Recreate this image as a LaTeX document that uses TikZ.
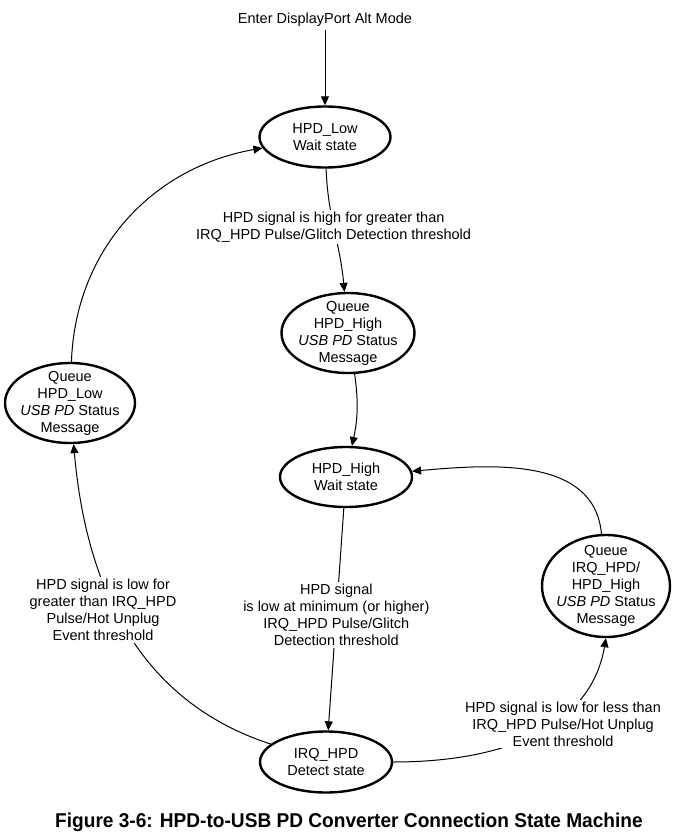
\documentclass[tikz,border=0pt]{standalone}
\usepackage{fontspec}
\setmainfont{Liberation Sans}
\usetikzlibrary{shapes.geometric,arrows.meta}

\begin{document}
\begin{tikzpicture}[x=1pt,y=1pt,every node/.style={font=\fontsize{14.5}{17}\selectfont, align=center}]
  \tikzstyle{state}=[ellipse, draw, line width=2.4pt, inner sep=0pt]
  \tikzstyle{trans}=[line width=1pt, -{Triangle[length=9pt,width=8pt]}]
  \tikzstyle{cond}=[fill=white, inner sep=2pt]

\useasboundingbox (0,0) rectangle (687,-833);

\node (enter) at (325,-20) {Enter DisplayPort Alt Mode};

\node [state, minimum width=131, minimum height=61,
  label={center:HPD\_Low\\Wait state}] (hpd_low) at (325,-137) {};
\node [state, minimum width=133, minimum height=80,
  label={center:Queue\\HPD\_High\\\textit{USB PD} Status\\Message}] (q_high) at (348,-333) {};
\node [state, minimum width=132, minimum height=60,
  label={center:HPD\_High\\Wait state}] (hh_wait) at (346,-477) {};
\node [state, minimum width=130, minimum height=80,
  label={center:Queue\\HPD\_Low\\\textit{USB PD} Status\\Message}] (q_low) at (70,-403) {};
\node [state, minimum width=128, minimum height=102,
  label={center:Queue\\IRQ\_HPD/\\HPD\_High\\\textit{USB PD} Status\\Message}] (q_irq) at (606,-586) {};
\node [state, minimum width=132, minimum height=61,
  label={center:IRQ\_HPD\\Detect state}] (irq_det) at (326,-762) {};

% transitions
\draw[trans] (enter) -- (hpd_low);
\draw[trans] (hpd_low) to[out=-88, in=95]
  node[cond, pos=0.47] {HPD signal is high for greater than\\IRQ\_HPD Pulse/Glitch Detection threshold} (q_high);
\draw[trans] (q_high) to[bend left=10] (hh_wait);
\draw[trans] (hh_wait) --
  node[cond, pos=0.48] {HPD signal\\is low at minimum (or higher)\\IRQ\_HPD Pulse/Glitch\\Detection threshold} (irq_det);
\draw[trans] (irq_det.east) .. controls (500,-762) and (590,-730) .. (q_irq.south);
\draw[trans] (q_irq) to[out=95, in=5] (hh_wait);
\draw[trans] (irq_det) to[out=162, in=-85] (q_low);
\draw[trans] (q_low) to[out=88, in=190] (hpd_low);

% conditions on the curved transitions
\node[cond] (c_less) at (563,-724) {HPD signal is low for less than\\IRQ\_HPD Pulse/Hot Unplug\\Event threshold};
\node[cond] (c_greater) at (103,-610) {HPD signal is low for\\greater than IRQ\_HPD\\Pulse/Hot Unplug\\Event threshold};

\node[font=\bfseries\fontsize{20}{24}\selectfont, xscale=0.955, transform shape, anchor=base] (caption) at (349,-827)
  {Figure 3-6: HPD-to-USB PD Converter Connection State Machine};

\end{tikzpicture}
\end{document}
